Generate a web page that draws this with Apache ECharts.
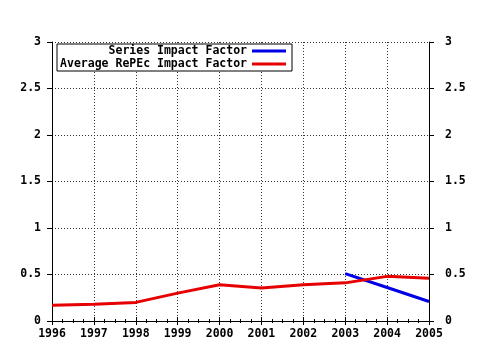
<!DOCTYPE html>
<html>
<head>
<meta charset="utf-8">
<script src="https://cdn.jsdelivr.net/npm/echarts@6/dist/echarts.min.js"></script>
<style>
  html, body { margin: 0; padding: 0; background: #fff; }
  #chart { width: 480px; height: 350px; }
</style>
</head>
<body>
<div id="chart"></div>
<script>
const years = [1996, 1997, 1998, 1999, 2000, 2001, 2002, 2003, 2004, 2005];
const averageRepec = [0.17, 0.18, 0.2, 0.3, 0.39, 0.355, 0.39, 0.41, 0.48, 0.46];
const seriesYears = [2003, 2004, 2005];
const seriesImpact = [0.51, 0.36, 0.21];

const font = 'DejaVu Sans Mono';
const labelStyle = { fontFamily: font, fontWeight: 'bold', fontSize: 11.5, color: '#000' };

const chart = echarts.init(document.getElementById('chart'));

const xBase = {
  type: 'value', min: 1996, max: 2005, interval: 1, splitNumber: 9,
  axisLine: { show: true, lineStyle: { color: '#000', width: 1 } },
  axisTick: { show: true, length: 4, lineStyle: { color: '#000' } },
  minorTick: { show: true, splitNumber: 4, length: 2, lineStyle: { color: '#000' } }
};
const yBase = {
  type: 'value', min: 0, max: 3, interval: 0.5,
  axisLine: { show: true, lineStyle: { color: '#000', width: 1 } },
  axisTick: { show: true, length: 5, lineStyle: { color: '#000' } }
};
const gridLine = { show: true, lineStyle: { color: '#333', type: [1, 2] } };

chart.setOption({
  backgroundColor: '#fff',
  animation: false,
  grid: { left: 52, right: 51, top: 42, bottom: 29 },
  legend: {
    orient: 'vertical',
    left: 57, top: 44,
    align: 'right',
    backgroundColor: '#fff',
    borderColor: '#000', borderWidth: 1,
    padding: [1, 6, 1, 0],
    itemGap: 1,
    itemWidth: 34, itemHeight: 3,
    icon: 'rect',
    textStyle: Object.assign({}, labelStyle, { width: 190, align: 'right', lineHeight: 12 }),
    data: ['Series Impact Factor', 'Average RePEc Impact Factor']
  },
  xAxis: [
    Object.assign({}, xBase, {
      position: 'bottom',
      axisLabel: Object.assign({}, labelStyle, { margin: 7, formatter: v => String(v) }),
      splitLine: gridLine
    }),
    Object.assign({}, xBase, {
      position: 'top',
      axisLabel: { show: false },
      splitLine: { show: false }
    })
  ],
  yAxis: [
    Object.assign({}, yBase, {
      position: 'left',
      axisLabel: Object.assign({}, labelStyle, { margin: 11 }),
      splitLine: gridLine
    }),
    Object.assign({}, yBase, {
      position: 'right',
      axisLabel: Object.assign({}, labelStyle, { margin: 16 }),
      splitLine: { show: false }
    })
  ],
  series: [
    {
      name: 'Series Impact Factor',
      type: 'line',
      symbol: 'none',
      color: '#0000e6',
      lineStyle: { width: 3, color: '#0000e6' },
      data: seriesYears.map((y, i) => [y, seriesImpact[i]])
    },
    {
      name: 'Average RePEc Impact Factor',
      type: 'line',
      symbol: 'none',
      color: '#e60000',
      lineStyle: { width: 3, color: '#e60000' },
      data: years.map((y, i) => [y, averageRepec[i]])
    }
  ]
});
</script>
</body>
</html>
